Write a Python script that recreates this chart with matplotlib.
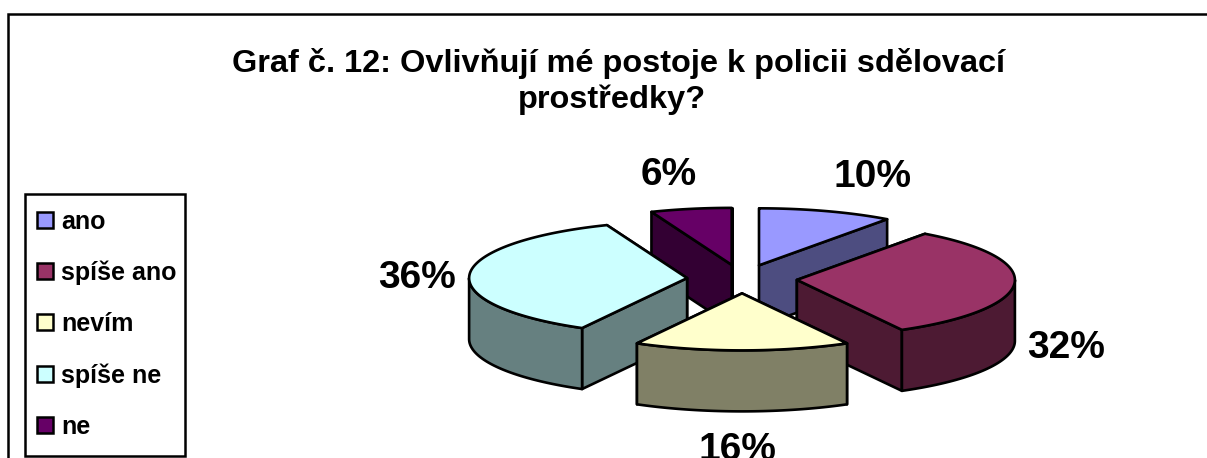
import numpy as np
import matplotlib
matplotlib.use("Agg")
import matplotlib.pyplot as plt
from matplotlib.patches import Polygon, Rectangle

labels = ["ano", "spíše ano", "nevím", "spíše ne", "ne"]
values = [10, 32, 16, 36, 6]
pct_labels = ["10%", "32%", "16%", "36%", "6%"]
top_colors = ["#9999FF", "#993366", "#FFFFCC", "#CCFFFF", "#660066"]
side_colors = ["#4D4D80", "#4D1A33", "#808066", "#668080", "#330033"]
pct_x = [873, 1066, 737, 417, 669]
pct_y = [177, 348, 450, 278, 175]

cx, cy = 742, 279
rx, ry = 218, 57
depth = 61
explode = 55

plt.rcParams["font.family"] = ["Liberation Sans", "DejaVu Sans"]
plt.rcParams["font.weight"] = "bold"

fig = plt.figure(figsize=(12.07, 4.58), dpi=100)
ax = fig.add_axes([0, 0, 1, 1])
ax.set_xlim(0, 1207)
ax.set_ylim(458, 0)
ax.axis("off")


def pt(x0, y0, deg):
    a = np.radians(deg)
    return np.column_stack([x0 + rx * np.sin(a), y0 - ry * np.cos(a)])


def shape(points, color, z):
    ax.add_patch(Polygon(points, closed=True, facecolor=color, edgecolor="black",
                         linewidth=1.9, joinstyle="round", zorder=z))


# chart frame, open on the right and at the bottom like the crop
ax.plot([8, 8, 1207], [458, 14, 14], color="black", lw=1.8, solid_joinstyle="miter")

ends = np.cumsum(values) * 3.6
starts = ends - np.array(values) * 3.6
mids = (starts + ends) / 2
# back slices first, the front one last
order = sorted(range(len(values)), key=lambda k: -np.cos(np.radians(mids[k])))

z = 3
for k in order:
    x0 = cx + explode * np.sin(np.radians(mids[k]))
    y0 = cy - explode * (ry / rx) * np.cos(np.radians(mids[k]))
    apex = np.array([[x0, y0]])
    # cut faces, the upper one first
    cuts = sorted([starts[k], ends[k]], key=lambda d: pt(x0, y0, d)[0, 1])
    for d in cuts:
        edge = np.vstack([apex, pt(x0, y0, d)])
        shape(np.vstack([edge, edge[::-1] + [0, depth]]), side_colors[k], z)
        z += 1
    # outer rim, only the part facing the viewer
    lo, hi = max(starts[k], 90), min(ends[k], 270)
    if hi > lo:
        arc = pt(x0, y0, np.linspace(lo, hi, 60))
        shape(np.vstack([arc, arc[::-1] + [0, depth]]), side_colors[k], z)
        z += 1
    # top face
    arc = pt(x0, y0, np.linspace(starts[k], ends[k], 120))
    shape(np.vstack([apex, arc]), top_colors[k], z)
    z += 1

for txt, x, y in zip(pct_labels, pct_x, pct_y):
    ax.text(x, y, txt, fontsize=28, ha="center", va="center", color="black", zorder=50)

ax.text(618.5, 72, "Graf č. 12: Ovlivňují mé postoje k policii sdělovací", fontsize=23.4,
        ha="center", va="baseline", zorder=50)
ax.text(612, 108, "prostředky?", fontsize=23.4, ha="center", va="baseline", zorder=50)

# legend
ax.add_patch(Rectangle((25, 194), 160, 262, facecolor="white", edgecolor="black", lw=1.8, zorder=51))
row_y = [222, 273, 324, 376, 427]
for k, txt in enumerate(labels):
    ax.add_patch(Rectangle((37, row_y[k] - 10), 16, 16, facecolor=top_colors[k],
                           edgecolor="black", lw=1.8, zorder=52))
    ax.text(61, row_y[k], txt, fontsize=18, ha="left", va="center", zorder=52)

fig.savefig("out.png", dpi=100)
